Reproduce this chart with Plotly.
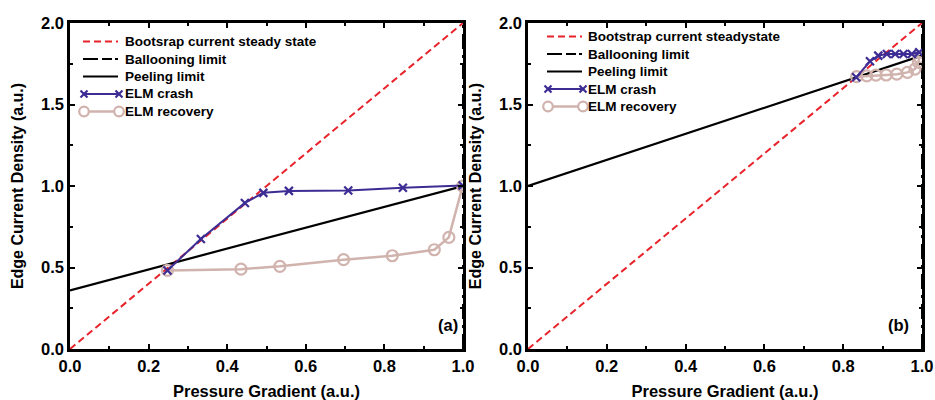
import plotly.graph_objects as go

# ---------------- data ----------------
# Panel (a)
a_boot_x = [0.0, 1.0]
a_boot_y = [0.0, 2.0]
a_ball_x = [1.0, 1.0]
a_ball_y = [0.0, 2.0]
a_peel_x = [0.0, 1.0]
a_peel_y = [0.36, 1.0]
a_crash_x = [0.248, 0.333, 0.445, 0.492, 0.557, 0.708, 0.847, 0.999]
a_crash_y = [0.482, 0.675, 0.896, 0.958, 0.970, 0.972, 0.989, 1.003]
a_rec_x = [0.248, 0.435, 0.534, 0.696, 0.820, 0.927, 0.964, 0.999]
a_rec_y = [0.482, 0.490, 0.507, 0.548, 0.572, 0.609, 0.685, 0.999]

# Panel (b)
b_boot_x = [0.0, 1.0]
b_boot_y = [0.0, 2.0]
b_ball_x = [1.0, 1.0]
b_ball_y = [0.0, 2.0]
b_peel_x = [0.0, 1.0]
b_peel_y = [1.0, 1.8]
b_crash_x = [0.833, 0.868, 0.889, 0.911, 0.932, 0.953, 0.974, 0.993]
b_crash_y = [1.667, 1.765, 1.800, 1.810, 1.810, 1.810, 1.810, 1.820]
b_rec_x = [0.834, 0.860, 0.883, 0.909, 0.936, 0.963, 0.982, 0.991, 0.993]
b_rec_y = [1.671, 1.676, 1.680, 1.681, 1.686, 1.697, 1.717, 1.758, 1.789]

x_ticks = [0.0, 0.2, 0.4, 0.6, 0.8, 1.0]
y_ticks = [0.0, 0.5, 1.0, 1.5, 2.0]

legend_a = ["Bootsrap current steady state", "Ballooning limit", "Peeling limit",
            "ELM crash", "ELM recovery"]
legend_b = ["Bootstrap current steadystate", "Ballooning limit", "Peeling limit",
            "ELM crash", "ELM recovery"]

RED = "#e8232b"
PURPLE = "#3d2c94"
PINK = "#d1b3ae"
FONT = "Liberation Sans"
RED_DASH = "7px,4px"

W, H = 935, 400
ML, MR, MT, MB = 70, 13, 23, 51
PW, PH = W - ML - MR, H - MT - MB

fig = go.Figure()


def add_panel(xa, ya, bx, by, blx, bly, px, py, cx, cy, rx, ry):
    fig.add_trace(go.Scatter(x=bx, y=by, mode="lines",
                             line=dict(color=RED, width=2, dash=RED_DASH),
                             xaxis=xa, yaxis=ya))
    fig.add_trace(go.Scatter(x=blx, y=bly, mode="lines",
                             line=dict(color="black", width=2, dash="longdashdot"),
                             xaxis=xa, yaxis=ya))
    fig.add_trace(go.Scatter(x=px, y=py, mode="lines",
                             line=dict(color="black", width=2.2),
                             xaxis=xa, yaxis=ya))
    fig.add_trace(go.Scatter(x=rx, y=ry, mode="lines+markers",
                             line=dict(color=PINK, width=2.5),
                             marker=dict(symbol="circle-open", size=11, color=PINK,
                                         line=dict(color=PINK, width=2.2)),
                             xaxis=xa, yaxis=ya))
    fig.add_trace(go.Scatter(x=cx, y=cy, mode="lines+markers",
                             line=dict(color=PURPLE, width=2),
                             marker=dict(symbol="x-thin", size=8,
                                         line=dict(color=PURPLE, width=2.2)),
                             xaxis=xa, yaxis=ya))


add_panel("x", "y", a_boot_x, a_boot_y, a_ball_x, a_ball_y, a_peel_x, a_peel_y,
          a_crash_x, a_crash_y, a_rec_x, a_rec_y)
add_panel("x2", "y2", b_boot_x, b_boot_y, b_ball_x, b_ball_y, b_peel_x, b_peel_y,
          b_crash_x, b_crash_y, b_rec_x, b_rec_y)


# ---------------- manual legends (pixel layout -> paper coords) ----------------
def px2x(p):
    return (p - ML) / PW


def px2y(p):
    return (H - MB - p) / PH


shapes = []
annotations = []


def seg(x0, x1, y, color, width, dash="solid"):
    shapes.append(dict(type="line", xref="paper", yref="paper",
                       x0=px2x(x0), x1=px2x(x1), y0=px2y(y), y1=px2y(y),
                       line=dict(color=color, width=width, dash=dash)))


def add_legend(labels, x0, x1, xt, rows):
    seg(x0, x1, rows[0], RED, 2, RED_DASH)
    seg(x0, x0 + 15, rows[1], "black", 2)
    seg(x0 + 19, x0 + 29, rows[1], "black", 2)
    seg(x0 + 32, x1, rows[1], "black", 2)
    seg(x0, x1, rows[2], "black", 2.2)
    seg(x0, x1, rows[3], PURPLE, 2)
    for cxp in (x0 + 1, x1 + 1):
        r = 3.5
        shapes.append(dict(type="line", xref="paper", yref="paper",
                           x0=px2x(cxp - r), x1=px2x(cxp + r),
                           y0=px2y(rows[3] - r), y1=px2y(rows[3] + r),
                           line=dict(color=PURPLE, width=2.2)))
        shapes.append(dict(type="line", xref="paper", yref="paper",
                           x0=px2x(cxp - r), x1=px2x(cxp + r),
                           y0=px2y(rows[3] + r), y1=px2y(rows[3] - r),
                           line=dict(color=PURPLE, width=2.2)))
    seg(x0, x1, rows[4], PINK, 2.5)
    for cxp in (x0 + 1, x1 + 1):
        r = 4.8
        shapes.append(dict(type="circle", xref="paper", yref="paper",
                           x0=px2x(cxp - r), x1=px2x(cxp + r),
                           y0=px2y(rows[4] + r), y1=px2y(rows[4] - r),
                           fillcolor="white", line=dict(color=PINK, width=2.2)))
    for lab, ry in zip(labels, rows):
        annotations.append(dict(x=px2x(xt), y=px2y(ry), xref="paper", yref="paper",
                                xanchor="left", yanchor="middle", text=lab,
                                showarrow=False, borderpad=0,
                                font=dict(family=FONT, size=13.5, color="black",
                                          weight="bold")))


add_legend(legend_a, 83, 118, 124, [41.5, 59.0, 76.5, 94.0, 111.5])
add_legend(legend_b, 547, 582, 587, [36.5, 54.0, 71.5, 89.0, 106.5])

annotations.append(dict(x=0.962, y=0.15, xref="x", yref="y", text="(a)", showarrow=False,
                        font=dict(family=FONT, size=16.5, color="black", weight="bold")))
annotations.append(dict(x=0.940, y=0.15, xref="x2", yref="y2", text="(b)", showarrow=False,
                        font=dict(family=FONT, size=16.5, color="black", weight="bold")))

tickfont = dict(family=FONT, size=16.5, color="black", weight="bold")

xcommon = dict(range=[0, 1], tickvals=x_ticks, ticktext=[f"{v:.1f}" for v in x_ticks],
               ticks="inside", ticklen=5, tickwidth=2, tickcolor="black",
               showline=True, linecolor="black", linewidth=2.5, mirror="allticks",
               showgrid=False, zeroline=False, tickfont=tickfont, automargin=False,
               minor=dict(ticks="inside", ticklen=3, tickwidth=1.5, tickcolor="black",
                          dtick=0.1, tick0=0, showgrid=False),
               title=dict(text="Pressure Gradient (a.u.)", standoff=12,
                          font=dict(family=FONT, size=16.5, color="black", weight="bold")))
ycommon = dict(range=[0, 2], tickvals=y_ticks, ticktext=[f"{v:.1f}" for v in y_ticks],
               ticks="inside", ticklen=5, tickwidth=2, tickcolor="black",
               showline=True, linecolor="black", linewidth=2.5, mirror="allticks",
               showgrid=False, zeroline=False, tickfont=tickfont, automargin=False,
               minor=dict(ticks="inside", ticklen=3, tickwidth=1.5, tickcolor="black",
                          dtick=0.25, tick0=0, showgrid=False),
               title=dict(text="Edge Current Density (a.u.)", standoff=14,
                          font=dict(family=FONT, size=16, color="black", weight="bold")))

fig.update_layout(
    width=W, height=H,
    margin=dict(l=ML, r=MR, t=MT, b=MB, autoexpand=False),
    paper_bgcolor="white", plot_bgcolor="white",
    showlegend=False,
    xaxis=dict(domain=[0, (463 - ML) / PW], anchor="y", **xcommon),
    yaxis=dict(domain=[0, 1], anchor="x", **ycommon),
    xaxis2=dict(domain=[(528 - ML) / PW, 1], anchor="y2", **xcommon),
    yaxis2=dict(domain=[0, 1], anchor="x2", **ycommon),
    shapes=shapes,
    annotations=annotations,
)

fig.write_html("out.html")
